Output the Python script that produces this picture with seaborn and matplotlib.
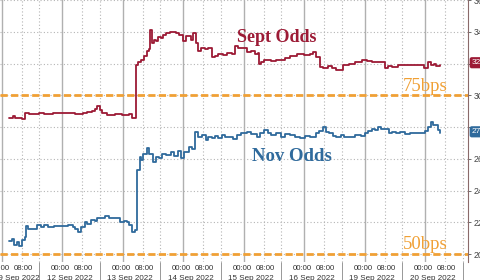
import matplotlib
matplotlib.use("Agg")
import matplotlib.pyplot as plt
import matplotlib.transforms as mtransforms
import seaborn as sns
import pandas as pd

# ---------------- data ----------------
trading_days = ["2022-09-09", "2022-09-12", "2022-09-13", "2022-09-14",
                "2022-09-15", "2022-09-16", "2022-09-19", "2022-09-20"]
date_labels = ["09 Sep 2022", "12 Sep 2022", "13 Sep 2022", "14 Sep 2022",
               "15 Sep 2022", "16 Sep 2022", "19 Sep 2022", "20 Sep 2022"]
time_labels = ["00:00", "08:00"]

sept_times = [
    "09-09 03:00", "09-09 04:30", "09-09 05:30", "09-09 07:00", "09-09 08:00", "09-09 09:30",
    "09-09 11:00", "09-09 14:45", "09-09 17:00", "09-09 20:30",
    "09-12 02:15", "09-12 05:00", "09-12 08:15", "09-12 10:00", "09-12 12:00", "09-12 13:00",
    "09-12 14:00", "09-12 15:00", "09-12 16:00", "09-12 18:00", "09-12 21:00", "09-12 23:45",
    "09-13 02:30", "09-13 03:35", "09-13 04:45", "09-13 05:15", "09-13 06:00", "09-13 07:30",
    "09-13 08:30", "09-13 09:30", "09-13 10:35", "09-13 11:00", "09-13 11:50", "09-13 12:30",
    "09-13 13:20", "09-13 14:10", "09-13 15:20", "09-13 16:10", "09-13 17:10", "09-13 19:00",
    "09-13 21:05", "09-13 22:30", "09-13 23:55",
    "09-14 01:00", "09-14 03:00", "09-14 04:05", "09-14 05:00", "09-14 06:05", "09-14 07:00",
    "09-14 08:50", "09-14 10:00", "09-14 11:30", "09-14 12:30", "09-14 13:55", "09-14 16:00",
    "09-14 17:30", "09-14 19:20", "09-14 20:30", "09-14 21:40", "09-14 23:10",
    "09-15 01:30", "09-15 03:00", "09-15 04:20", "09-15 05:50", "09-15 06:10", "09-15 07:00",
    "09-15 08:05", "09-15 11:00", "09-15 13:00", "09-15 14:50", "09-15 16:30", "09-15 18:35",
    "09-15 21:00",
    "09-16 00:00", "09-16 02:25", "09-16 03:40", "09-16 04:50", "09-16 06:20", "09-16 07:30",
    "09-16 09:30", "09-16 11:00", "09-16 12:30", "09-16 15:20", "09-16 18:00", "09-16 20:20",
    "09-16 23:05",
    "09-19 01:00", "09-19 03:00", "09-19 06:50", "09-19 08:00", "09-19 09:20", "09-19 10:40",
    "09-19 13:25", "09-19 22:25", "09-19 23:30",
    "09-20 01:05", "09-20 02:20", "09-20 03:30", "09-20 04:30", "09-20 05:50"]
sept_odds = [
    28.6, 28.7, 28.55, 28.6, 28.5, 28.9,
    28.85, 28.9, 28.8, 28.9,
    28.9, 28.8, 28.9, 28.95, 29.0, 29.15,
    29.3, 29.1, 28.9, 28.75, 28.8, 28.75,
    28.8, 28.6, 28.55, 31.9, 32.1, 32.2,
    32.5, 32.8, 32.9, 34.1, 33.3, 33.5,
    33.4, 33.7, 33.6, 33.8, 33.9, 34.0,
    33.9, 33.8, 33.4,
    33.75, 33.5, 33.9, 33.3, 32.8, 33.0,
    32.9, 33.0, 32.4, 32.5, 32.6, 32.55,
    32.65, 32.6, 33.1, 32.95, 33.0,
    32.7, 32.8, 32.6, 32.65, 32.0, 32.1,
    32.2, 32.15, 32.25, 32.2, 32.35, 32.5,
    32.6,
    32.55, 32.6, 32.7, 32.4, 31.75, 31.7,
    31.85, 31.7, 31.6, 31.9, 31.95, 32.1,
    32.25,
    32.15, 32.1, 32.1, 31.7, 31.85, 31.8,
    31.9, 31.9, 31.7,
    32.1, 31.9, 32.0, 31.85, 31.9]

nov_times = [
    "09-09 03:00", "09-09 04:00", "09-09 05:00", "09-09 06:00", "09-09 07:00", "09-09 08:05",
    "09-09 09:15", "09-09 09:40", "09-09 10:30", "09-09 12:40", "09-09 14:00", "09-09 15:30",
    "09-09 17:00", "09-09 18:35", "09-09 21:00",
    "09-12 00:25", "09-12 02:30", "09-12 04:20", "09-12 05:10", "09-12 06:15", "09-12 07:30",
    "09-12 09:00", "09-12 10:00", "09-12 11:30", "09-12 13:00", "09-12 14:00", "09-12 15:30",
    "09-12 17:00", "09-12 18:30", "09-12 20:35", "09-12 22:55",
    "09-13 00:30", "09-13 01:40", "09-13 02:40", "09-13 03:35", "09-13 04:45", "09-13 05:35",
    "09-13 06:45", "09-13 07:30", "09-13 08:10", "09-13 09:30", "09-13 10:30", "09-13 12:10",
    "09-13 13:20", "09-13 14:30", "09-13 15:40", "09-13 17:10", "09-13 19:10", "09-13 20:30",
    "09-13 21:55", "09-13 23:05",
    "09-14 00:20", "09-14 02:15", "09-14 03:30", "09-14 04:55", "09-14 06:05", "09-14 07:30",
    "09-14 09:00", "09-14 10:00", "09-14 11:30", "09-14 12:30", "09-14 14:00", "09-14 15:20",
    "09-14 16:35", "09-14 18:00", "09-14 20:00", "09-14 21:30", "09-14 23:10",
    "09-15 01:30", "09-15 03:00", "09-15 05:25", "09-15 06:40", "09-15 08:05", "09-15 09:30",
    "09-15 10:55", "09-15 12:40", "09-15 14:50", "09-15 16:30", "09-15 18:35", "09-15 20:30",
    "09-15 22:30",
    "09-16 00:30", "09-16 02:25", "09-16 04:50", "09-16 06:00", "09-16 07:30", "09-16 08:40",
    "09-16 10:00", "09-16 11:20", "09-16 12:30", "09-16 14:30", "09-16 16:00", "09-16 17:55",
    "09-16 20:00", "09-16 22:30",
    "09-19 00:10", "09-19 01:30", "09-19 02:55", "09-19 04:00", "09-19 05:30", "09-19 06:40",
    "09-19 08:00", "09-19 09:30", "09-19 11:00", "09-19 12:30", "09-19 14:00", "09-19 16:00",
    "09-19 18:00", "09-19 20:00", "09-19 22:25",
    "09-20 00:00", "09-20 01:05", "09-20 02:20", "09-20 03:10", "09-20 04:10", "09-20 05:00",
    "09-20 05:50"]
nov_odds = [
    20.8, 20.95, 20.6, 20.75, 20.5, 20.9,
    21.1, 21.75, 21.55, 21.6, 21.8, 21.7,
    21.8, 21.7, 21.75,
    21.75, 21.85, 21.7, 21.55, 21.4, 21.7,
    22.0, 21.9, 22.15, 22.1, 22.3, 22.25,
    22.4, 22.3, 22.3, 22.0,
    22.1, 22.05, 21.8, 21.4, 21.5, 25.3,
    26.1, 25.9, 26.3, 26.7, 26.3, 25.8,
    26.1, 26.06, 26.3, 26.25, 26.4, 26.2,
    26.5, 26.06,
    26.4, 26.75, 26.6, 27.7, 27.4, 27.5,
    27.2, 27.4, 27.3, 27.45, 27.3, 27.5,
    27.4, 27.35, 27.25, 27.5, 27.6,
    27.7, 27.55, 27.4, 27.6, 27.8, 27.65,
    27.5, 27.6, 27.4, 27.55, 27.5, 27.4,
    27.3,
    27.45, 27.4, 27.6, 27.75, 28.0, 27.7,
    27.6, 27.45, 27.4, 27.5, 27.35, 27.4,
    27.5, 27.45,
    27.6, 27.75, 27.9, 27.8, 28.0, 27.85,
    27.9, 27.6, 27.7, 27.6, 27.7, 27.55,
    27.65, 27.6, 27.6,
    27.75, 28.0, 28.3, 28.15, 28.1, 27.8,
    27.6]

levels = [30, 20]
level_labels = ["75bps", "50bps"]
sept_last_label = "32.06"
nov_last_label = "27.62"
y_ticks = [20, 22, 24, 26, 28, 30, 32, 34, 36]
covered_ticks = [28, 32]

# ---------------- helpers ----------------
day_index = {d[5:]: i for i, d in enumerate(trading_days)}


def to_hours(stamps):
    out = []
    for s in stamps:
        d, t = s.split(" ")
        hh, mm = t.split(":")
        out.append(day_index[d] * 24 + int(hh) + int(mm) / 60)
    return out


df = pd.concat([
    pd.DataFrame({"h": to_hours(sept_times), "v": sept_odds, "series": "Sept"}),
    pd.DataFrame({"h": to_hours(nov_times), "v": nov_odds, "series": "Nov"}),
])

RED = "#9c1a35"
BLUE = "#2f6a9c"
ORANGE = "#f0a035"

sns.set_style("white")
plt.rcParams["font.family"] = ["Liberation Sans", "DejaVu Sans"]

fig = plt.figure(figsize=(4.8, 2.8), dpi=100)
ax = fig.add_axes([0, 18 / 280, 468 / 480, 262 / 280])

# grid: horizontal dotted
for yv in y_ticks:
    ax.axhline(yv, color="#b5b5b5", lw=0.8, ls=(0, (1, 2)), zorder=0)
# vertical: solid at 00:00, dotted at 08:00 and 15:00
n = len(trading_days)
for i in range(n):
    ax.axvline(i * 24, color="#b0b0b0", lw=1.0, zorder=0)
    ax.axvline(i * 24 + 8, color="#b5b5b5", lw=0.8, ls=(0, (1, 2)), zorder=0)
    ax.axvline(i * 24 + 15, color="#b5b5b5", lw=0.8, ls=(0, (1, 2)), zorder=0)
    ax.axvline(i * 24 + 15, ymin=-0.075, ymax=0, color="#888888", lw=0.6,
               clip_on=False, zorder=0)

for lv in levels:
    ax.axhline(lv, color=ORANGE, lw=2.0, ls=(0, (2.6, 1.2)), zorder=2)

sns.lineplot(data=df, x="h", y="v", hue="series",
             palette={"Sept": RED, "Nov": BLUE}, legend=False,
             drawstyle="steps-post", linewidth=1.3, ax=ax, zorder=3)

ax.set_xlim(3.0, 185.0)
ax.set_ylim(19.5, 36.0)
ax.set_xlabel("")
ax.set_ylabel("")

# y axis on the right
ax.yaxis.tick_right()
ax.set_yticks(y_ticks)
ax.set_yticklabels(["" if t in covered_ticks else str(t) for t in y_ticks])
ax.tick_params(axis="y", right=True, length=2.5, width=0.6, color="#555555",
               labelsize=6.3, labelcolor="#444444", pad=1.5)

# x ticks
maj = []
maj_lab = []
for i in range(n):
    maj += [i * 24 - 0.6, i * 24 + 8.6]
    maj_lab += time_labels
ax.set_xticks(maj)
ax.set_xticklabels(maj_lab)
minor = [i * 24 + (6 if i == 0 else 3) for i in range(n)]
ax.set_xticks(minor, minor=True)
ax.set_xticklabels(date_labels, minor=True)
ax.tick_params(axis="x", which="major", bottom=False, length=0,
               labelsize=5.6, labelcolor="#333333", pad=2.2)
ax.tick_params(axis="x", which="minor", bottom=False, length=0,
               labelsize=5.8, labelcolor="#333333", pad=9.0)

for side in ["top", "left", "bottom"]:
    ax.spines[side].set_visible(False)
ax.spines["right"].set_color("#8a6a6a")
ax.spines["right"].set_linewidth(0.8)

# annotations
serif = ["Liberation Serif", "DejaVu Serif"]
ax.text(0.592, 0.855, "Sept Odds", transform=ax.transAxes, color=RED,
        fontsize=13, fontweight="bold", family=serif, ha="center", va="center")
ax.text(0.624, 0.401, "Nov Odds", transform=ax.transAxes, color=BLUE,
        fontsize=13.5, fontweight="bold", family=serif, ha="center", va="center")
ax.text(0.908, 0.668, level_labels[0], transform=ax.transAxes, color=ORANGE,
        fontsize=13.5, family=serif, ha="center", va="center")
ax.text(0.908, 0.065, level_labels[1], transform=ax.transAxes, color=ORANGE,
        fontsize=13.5, family=serif, ha="center", va="center")

trans = mtransforms.blended_transform_factory(ax.transAxes, ax.transData)
ax.text(1.008, sept_odds[-1] + 0.15, sept_last_label, transform=trans, color="white",
        fontsize=6.0, ha="left", va="center", clip_on=False,
        bbox=dict(boxstyle="round,pad=0.25", fc=RED, ec="none"))
ax.text(1.008, nov_odds[-1] + 0.1, nov_last_label, transform=trans, color="white",
        fontsize=6.0, ha="left", va="center", clip_on=False,
        bbox=dict(boxstyle="round,pad=0.25", fc=BLUE, ec="none"))

fig.savefig("out.png", dpi=100)
